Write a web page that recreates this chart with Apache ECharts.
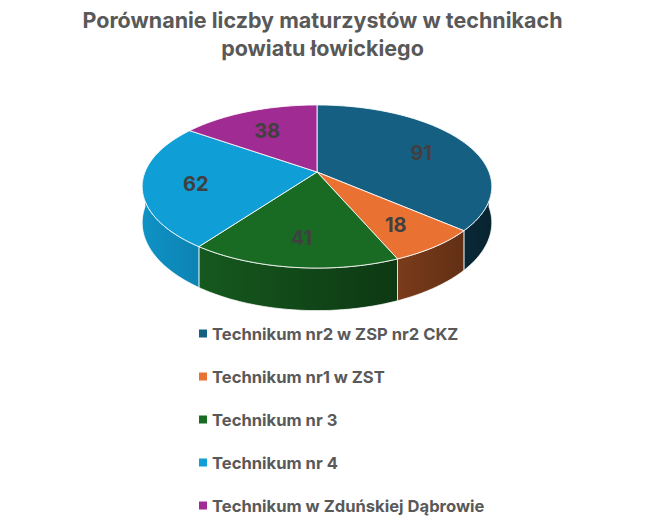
<!DOCTYPE html>
<html lang="pl">
<head>
<meta charset="UTF-8">
<title>Porównanie liczby maturzystów</title>
<script src="https://cdn.jsdelivr.net/npm/echarts@6/dist/echarts.min.js"></script>
<style>
  html, body { margin: 0; padding: 0; background: #fff; }
  #main { width: 645px; height: 530px; }
</style>
</head>
<body>
<div id="main"></div>
<script>
  // dane z wykresu
  var schools = ['Technikum nr2 w ZSP nr2 CKZ', 'Technikum nr1 w ZST', 'Technikum nr 3', 'Technikum nr 4', 'Technikum w Zduńskiej Dąbrowie'];
  var graduates = [91, 18, 41, 62, 38];
  var colors = ['#156082', '#e97132', '#196b24', '#0f9ed5', '#a02b93'];

  var total = graduates.reduce(function (a, b) { return a + b; }, 0);
  var starts = [];
  var acc = 0;
  graduates.forEach(function (v) { starts.push(acc); acc += v; });

  // udawane 3D: pochylony dysk z perspektywa
  var cx = 317, cy = 172, R = 172;
  var sinT = 0.459, cosT = 0.888, D = 858, H = 35;
  var FONT = 'Inter, "Noto Sans", sans-serif';

  function proj(theta, r) {
    var X = r * Math.sin(theta), Z = r * Math.cos(theta);
    var s = D / (D + Z * cosT);
    return { x: cx + X * s, y: cy - Z * sinT * s, s: s };
  }

  function shade(hex, f) {
    var n = parseInt(hex.slice(1), 16);
    var r = Math.round(((n >> 16) & 255) * f), g = Math.round(((n >> 8) & 255) * f), b = Math.round((n & 255) * f);
    return 'rgb(' + r + ',' + g + ',' + b + ')';
  }

  function arc(a0, a1) {
    var pts = [];
    var steps = Math.max(2, Math.ceil((a1 - a0) / (Math.PI / 180)));
    for (var i = 0; i <= steps; i++) {
      pts.push(proj(a0 + (a1 - a0) * i / steps, R));
    }
    return pts;
  }

  function renderSlice(params, api) {
    var start = api.value(0), val = api.value(1);
    var color = colors[params.seriesIndex];
    var a0 = start / total * Math.PI * 2;
    var a1 = (start + val) / total * Math.PI * 2;
    var children = [];

    // bok (tylko przednia czesc)
    var lo = Math.max(a0, Math.PI / 2), hi = Math.min(a1, Math.PI * 1.5);
    if (lo < hi) {
      var rim = arc(lo, hi);
      var side = rim.map(function (p) { return [p.x, p.y]; });
      for (var i = rim.length - 1; i >= 0; i--) {
        side.push([rim[i].x, rim[i].y + H * rim[i].s]);
      }
      children.push({
        type: 'polygon',
        shape: { points: side },
        style: {
          fill: {
            type: 'linear', x: cx - R, y: 0, x2: cx + R, y2: 0, global: true,
            colorStops: [{ offset: 0, color: shade(color, 0.92) }, { offset: 1, color: shade(color, 0.38) }]
          },
          stroke: 'rgba(255,255,255,0.75)',
          lineWidth: 1
        }
      });
    }

    // gora
    var top = [[cx, cy]].concat(arc(a0, a1).map(function (p) { return [p.x, p.y]; }));
    children.push({
      type: 'polygon',
      shape: { points: top },
      style: { fill: color, stroke: 'rgba(255,255,255,0.85)', lineWidth: 1 }
    });

    // etykieta
    var mid = (a0 + a1) / 2;
    var lp = proj(mid, R * 0.7);
    children.push({
      type: 'text',
      style: {
        text: String(val), x: lp.x, y: lp.y + 3,
        fill: '#404040', font: 'bold 20px ' + FONT,
        align: 'center', verticalAlign: 'middle'
      }
    });

    return { type: 'group', children: children };
  }

  var chart = echarts.init(document.getElementById('main'), null, { renderer: 'svg' });

  var series = schools.map(function (name, i) {
    return {
      name: name,
      type: 'custom',
      coordinateSystem: 'none',
      itemStyle: { color: colors[i] },
      renderItem: renderSlice,
      data: [[starts[i], graduates[i]]]
    };
  });

  chart.setOption({
    animation: false,
    title: {
      text: 'Porównanie liczby maturzystów w technikach\npowiatu łowickiego',
      left: 'center',
      top: 6,
      padding: 0,
      textStyle: { fontFamily: FONT, fontSize: 21.5, fontWeight: 'bold', color: '#595959', lineHeight: 28 }
    },
    legend: {
      orient: 'vertical',
      left: 194,
      top: 320,
      icon: 'rect',
      itemWidth: 8,
      itemHeight: 8,
      itemGap: 26,
      selectedMode: false,
      textStyle: { fontFamily: FONT, fontSize: 16.6, fontWeight: 'bold', color: '#595959', lineHeight: 17 },
      data: schools
    },
    series: series
  });
</script>
</body>
</html>
